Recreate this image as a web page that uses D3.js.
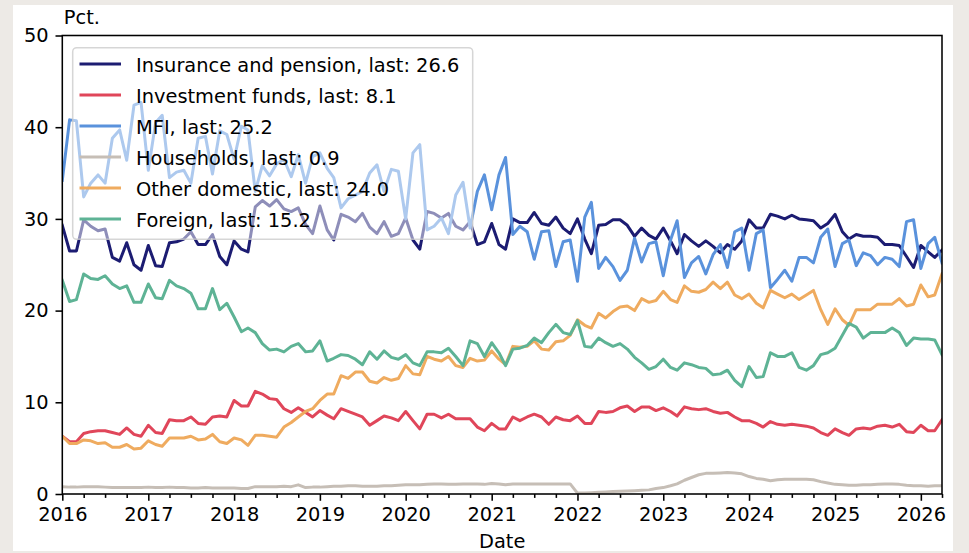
<!DOCTYPE html>
<html>
<head>
<meta charset="utf-8">
<script src="https://cdn.jsdelivr.net/npm/d3@7"></script>
<style>
  html, body { margin: 0; padding: 0; background: #edeae6; }
  svg { display: block; font-family: "DejaVu Sans", sans-serif; }
</style>
</head>
<body>
<svg id="chart" width="969" height="553"></svg>
<script>
// Monthly ownership shares (pct.), first observation January 2016
const firstMonth = "2016-01-01";

const insurancePension = [
  29.3,26.5,26.5,29.9,29.2,28.7,28.9,25.8,25.4,27.4,25.0,24.4,
  27.1,24.9,24.8,27.4,27.5,27.8,28.6,27.2,27.2,28.3,25.9,25.0,
  27.6,26.7,26.4,31.3,32.0,31.4,32.1,31.1,30.8,31.2,29.4,28.4,
  31.4,28.8,27.7,30.5,30.2,29.7,30.6,29.1,28.4,29.7,28.1,28.4,
  30.1,27.7,26.7,30.8,30.6,30.1,30.6,29.2,28.8,29.7,27.2,27.5,
  29.5,27.2,26.7,30.0,29.6,29.6,30.7,29.5,29.3,30.2,29.0,28.4,
  30.0,27.8,26.2,29.3,29.4,29.9,29.9,29.3,28.1,29.0,28.2,27.8,
  29.0,27.6,26.2,28.3,27.6,27.0,27.6,27.0,26.3,27.2,26.7,27.6,
  29.9,29.0,29.0,30.5,30.3,30.0,30.4,30.0,29.9,29.8,29.0,29.5,
  30.5,28.6,27.8,28.3,28.1,28.1,28.0,27.2,27.2,27.1,25.9,24.7,
  27.1,26.4,25.8,26.6
];

const investmentFunds = [
  6.3,5.7,5.7,6.6,6.8,6.9,6.9,6.7,6.5,7.2,6.5,6.3,
  7.5,6.7,6.6,8.1,8.0,8.0,8.4,7.7,7.6,8.4,8.5,8.4,
  10.2,9.6,9.6,11.2,10.9,10.4,10.3,9.3,8.9,9.4,8.9,8.4,
  9.1,8.6,8.2,9.3,9.0,8.7,8.4,7.5,8.0,8.5,8.3,8.0,
  9.0,8.0,7.1,8.7,8.7,8.3,8.7,8.2,8.2,8.2,7.3,6.9,
  7.7,7.1,7.1,8.4,8.0,8.4,8.7,8.4,7.6,8.4,8.1,8.0,
  8.5,7.7,7.7,9.0,8.9,9.0,9.4,9.6,9.0,9.5,9.5,9.1,
  9.4,9.0,8.5,9.5,9.3,9.2,9.3,9.0,8.8,8.9,8.4,8.0,
  8.0,7.7,7.3,7.9,7.6,7.5,7.6,7.5,7.4,7.2,6.7,6.4,
  7.1,6.7,6.4,7.1,7.2,7.1,7.4,7.5,7.3,7.6,6.8,6.7,
  7.5,6.9,6.9,8.1
];

const mfi = [
  34.2,40.8,40.7,32.4,33.9,34.8,33.9,38.8,39.7,36.4,42.4,42.7,
  35.3,40.5,41.3,34.5,35.1,35.3,33.9,38.8,39.0,34.9,39.6,39.2,
  36.5,40.1,39.7,33.0,35.8,34.7,36.0,36.5,34.6,37.0,33.9,36.8,
  37.2,35.5,34.5,31.2,32.2,32.6,33.0,35.0,35.9,33.0,35.4,35.2,
  30.0,37.2,38.1,28.8,29.2,30.1,28.4,32.6,34.0,29.0,33.0,34.8,
  31.0,34.8,36.7,28.3,29.2,28.6,25.6,28.6,28.7,24.8,27.5,27.7,
  23.2,30.2,31.8,24.6,25.8,24.8,23.3,24.4,27.9,25.3,27.3,27.5,
  23.8,27.7,29.8,23.6,25.2,25.9,24.0,26.1,27.2,24.7,28.6,29.0,
  24.4,28.4,28.8,22.5,23.4,24.4,23.2,25.8,25.8,25.2,28.0,28.9,
  24.8,27.3,27.7,24.9,26.3,26.0,25.0,25.8,25.6,24.8,29.7,29.9,
  24.6,27.3,28.0,25.2
];

const households = [
  0.8,0.75,0.75,0.8,0.8,0.8,0.75,0.7,0.7,0.7,0.7,0.7,
  0.75,0.7,0.7,0.75,0.7,0.7,0.65,0.65,0.7,0.65,0.65,0.65,
  0.65,0.6,0.6,0.8,0.8,0.8,0.8,0.85,0.8,1.0,0.7,0.75,
  0.75,0.8,0.85,0.85,0.9,0.9,0.85,0.85,0.85,0.9,0.9,0.95,
  1.0,1.0,1.0,1.05,1.1,1.1,1.05,1.05,1.1,1.1,1.1,1.05,
  1.15,1.1,1.0,1.1,1.1,1.1,1.1,1.1,1.1,1.1,1.1,1.1,
  0.1,0.1,0.15,0.18,0.22,0.26,0.3,0.33,0.36,0.4,0.45,0.6,
  0.7,0.9,1.1,1.5,1.8,2.1,2.25,2.25,2.3,2.35,2.3,2.2,
  1.9,1.7,1.6,1.45,1.55,1.6,1.6,1.6,1.6,1.55,1.35,1.2,
  1.05,1.0,0.95,0.95,1.0,1.0,1.05,1.1,1.1,1.05,0.95,0.9,
  0.9,0.85,0.9,0.9
];

const otherDomestic = [
  6.3,5.5,5.5,5.9,5.8,5.5,5.6,5.1,5.1,5.4,4.9,5.0,
  5.8,5.4,5.2,6.1,6.1,6.1,6.3,5.9,6.0,6.5,5.7,5.5,
  6.1,5.9,5.3,6.4,6.4,6.3,6.2,7.3,7.8,8.4,9.0,9.3,
  10.2,10.9,10.9,12.9,12.6,13.3,13.3,12.3,12.1,12.7,12.4,12.6,
  14.0,13.1,13.0,15.0,14.7,14.5,15.0,14.0,13.8,14.8,14.5,14.6,
  15.6,14.7,14.1,16.1,16.0,16.1,16.7,15.8,15.7,16.6,16.7,17.3,
  19.0,18.4,18.1,19.7,19.2,19.9,20.4,20.5,20.0,21.3,20.9,21.1,
  22.1,21.2,20.9,22.7,22.1,22.0,22.3,23.1,22.4,23.1,21.7,21.3,
  21.8,20.8,20.3,22.2,21.8,21.4,21.8,21.2,21.7,22.2,20.1,18.5,
  20.2,19.0,18.4,20.1,20.1,20.1,20.7,20.7,20.7,21.3,20.5,20.7,
  22.8,21.5,21.7,24.0
];

const foreign = [
  23.3,21.0,21.2,24.0,23.5,23.4,23.8,22.9,22.4,22.7,20.9,20.9,
  22.9,21.4,21.3,23.3,22.7,22.4,21.9,20.2,20.2,22.4,20.1,20.8,
  19.3,17.7,18.1,17.6,16.4,15.7,15.8,15.5,16.1,16.4,15.5,15.6,
  16.7,14.5,14.8,15.2,15.1,14.7,14.1,15.5,14.7,15.6,14.9,14.7,
  15.2,14.3,14.0,15.5,15.5,15.4,15.9,15.0,14.0,16.7,16.4,15.0,
  16.5,15.4,14.0,15.8,15.9,16.2,17.0,16.5,17.6,18.5,17.6,17.4,
  18.9,16.1,16.0,17.0,16.5,16.1,16.4,15.8,14.9,14.3,13.6,13.9,
  14.7,13.8,13.5,14.3,14.1,13.8,13.7,13.0,13.1,13.5,12.4,11.7,
  13.9,12.7,12.8,15.4,15.0,15.0,15.4,13.8,13.5,14.0,15.2,15.4,
  15.9,17.3,18.6,18.2,17.0,17.6,17.6,17.6,18.1,17.6,16.2,17.0,
  16.9,16.9,16.8,15.2
];

const seriesNames = ["Insurance and pension", "Investment funds", "MFI",
                     "Households", "Other domestic", "Foreign"];
const seriesValues = [insurancePension, investmentFunds, mfi,
                      households, otherDomestic, foreign];
const seriesColors = ["#1c1c72", "#e0465a", "#5a92dc", "#c6beb6", "#efab5f", "#5eb395"];

const yTicks = [0, 10, 20, 30, 40, 50];
const yAxisTitle = "Pct.";
const xAxisTitle = "Date";

// ---- layout ----
const W = 969, H = 553;
const plot = { left: 62.3, right: 942, top: 35.5, bottom: 494 };
const fontSize = 19.4;
const tickLen = 6.8, minorLen = 3.9, tickPad = 6.8;

const svg = d3.select("#chart");

// figure canvas
svg.append("rect").attr("width", W).attr("height", H).attr("fill", "#edeae6");
svg.append("rect").attr("x", 13).attr("y", 5).attr("width", 940).attr("height", 546)
  .attr("fill", "#ffffff");

const start = new Date(firstMonth + "T00:00:00Z");
const dates = d3.utcMonth.range(start, d3.utcMonth.offset(start, insurancePension.length));

const x = d3.scaleUtc()
  .domain([dates[0], dates[dates.length - 1]])
  .range([plot.left, plot.right]);
const y = d3.scaleLinear().domain([0, 50]).range([plot.bottom, plot.top]);

// plot area
svg.append("rect")
  .attr("x", plot.left).attr("y", plot.top)
  .attr("width", plot.right - plot.left).attr("height", plot.bottom - plot.top)
  .attr("fill", "#ffffff");

svg.append("clipPath").attr("id", "plotclip")
  .append("rect")
  .attr("x", plot.left).attr("y", plot.top)
  .attr("width", plot.right - plot.left).attr("height", plot.bottom - plot.top);

const line = d3.line()
  .x((d, i) => x(dates[i]))
  .y(d => y(d));

const lines = svg.append("g").attr("clip-path", "url(#plotclip)");
seriesValues.forEach((vals, k) => {
  lines.append("path")
    .attr("d", line(vals))
    .attr("fill", "none")
    .attr("stroke", seriesColors[k])
    .attr("stroke-width", 3)
    .attr("stroke-linejoin", "round")
    .attr("stroke-linecap", "square");
});

// ---- axes ----
const yearTicks = d3.utcYear.range(dates[0], d3.utcDay.offset(dates[dates.length - 1], 1));
const quarterTicks = d3.utcMonth.every(3)
  .range(dates[0], d3.utcDay.offset(dates[dates.length - 1], 1))
  .filter(d => d.getUTCMonth() !== 0);

const xAxis = svg.append("g")
  .attr("transform", `translate(0,${plot.bottom})`)
  .call(d3.axisBottom(x).tickValues(yearTicks)
    .tickFormat(d3.utcFormat("%Y")).tickSize(tickLen).tickPadding(tickPad));
xAxis.select(".domain").remove();

const xMinor = svg.append("g")
  .attr("transform", `translate(0,${plot.bottom})`)
  .call(d3.axisBottom(x).tickValues(quarterTicks).tickFormat("").tickSize(minorLen));
xMinor.select(".domain").remove();

const yAxis = svg.append("g")
  .attr("transform", `translate(${plot.left},0)`)
  .call(d3.axisLeft(y).tickValues(yTicks).tickSize(tickLen).tickPadding(tickPad));
yAxis.select(".domain").remove();

svg.selectAll(".tick line").attr("stroke", "#000").attr("stroke-width", 1.55);
svg.selectAll(".tick text")
  .attr("fill", "#000")
  .style("font-size", fontSize + "px")
  .style("font-family", "DejaVu Sans, sans-serif");

// spines
svg.append("rect")
  .attr("x", plot.left).attr("y", plot.top)
  .attr("width", plot.right - plot.left).attr("height", plot.bottom - plot.top)
  .attr("fill", "none").attr("stroke", "#000").attr("stroke-width", 1.55);

// titles
svg.append("text")
  .attr("x", plot.left + 1.5).attr("y", 24)
  .attr("font-size", fontSize).attr("fill", "#000")
  .text(yAxisTitle);

svg.append("text")
  .attr("x", (plot.left + plot.right) / 2).attr("y", 548)
  .attr("text-anchor", "middle")
  .attr("font-size", fontSize).attr("fill", "#000")
  .text(xAxisTitle);

// ---- legend (semi-transparent frame over the lines) ----
const legend = svg.append("g");
legend.append("rect")
  .attr("x", 72.7).attr("y", 47.7).attr("width", 400).attr("height", 191.6)
  .attr("rx", 4).attr("ry", 4)
  .attr("fill", "#ffffff").attr("fill-opacity", 0.5)
  .attr("stroke", "#cccccc").attr("stroke-opacity", 0.8).attr("stroke-width", 1.5);

seriesNames.forEach((name, k) => {
  const vals = seriesValues[k];
  const last = vals[vals.length - 1];
  const cy = 64 + k * 31;
  legend.append("line")
    .attr("x1", 79.5).attr("x2", 121).attr("y1", cy).attr("y2", cy)
    .attr("stroke", seriesColors[k]).attr("stroke-width", 3);
  legend.append("text")
    .attr("x", 136).attr("y", cy + 7.8)
    .attr("font-size", fontSize).attr("fill", "#000")
    .text(`${name}, last: ${d3.format(".1f")(last)}`);
});
</script>
</body>
</html>
